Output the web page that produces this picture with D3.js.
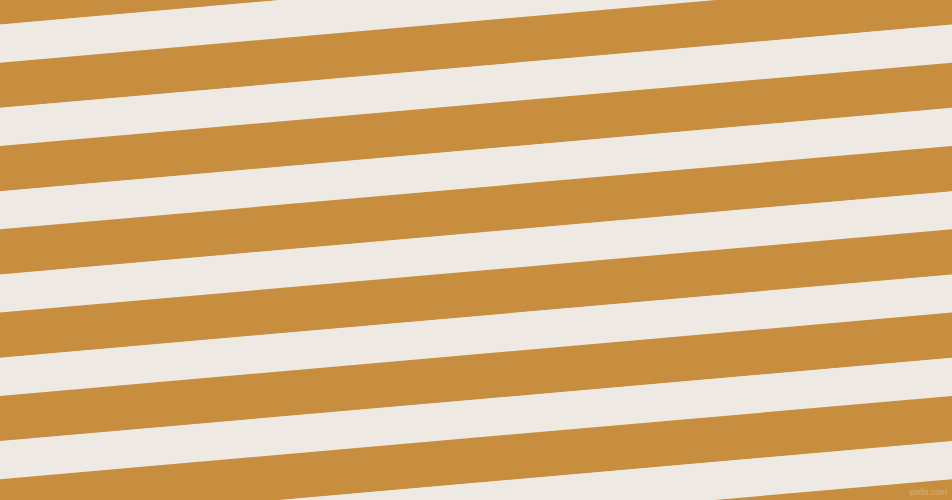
<!DOCTYPE html>
<html>
<head>
<meta charset="utf-8">
<script src="https://cdn.jsdelivr.net/npm/d3@7"></script>
<style>
  html, body { margin: 0; padding: 0; background: #EEEAE3; }
  #chart { width: 952px; height: 500px; overflow: hidden; }
</style>
</head>
<body>
<div id="chart"></div>
<script>
// stripe sequence, top to bottom (each pair = one gold + one cream band)
const pairs = [0, 1, 2, 3, 4, 5, 6, 7, 8];
const bandNames = ["gold", "cream"];
const bandColors = ["#C68E3E", "#EEEAE3"];
const bandShare = [45, 38];   // perpendicular thickness of each band
const watermark = "pixlis.com";

function drawStripes() {
    const width = 952;
    const height = 500;
    const angle = -5;
    const period = d3.sum(bandShare);

    const svg = d3.select("#chart")
        .append("svg")
        .attr("width", width)
        .attr("height", height)
        .attr("viewBox", `0 0 ${width} ${height}`);

    svg.append("rect")
        .attr("width", width)
        .attr("height", height)
        .attr("fill", bandColors[1]);

    // pair index -> perpendicular offset of the pair's first band
    const yPair = d3.scaleLinear()
        .domain([0, 1])
        .range([-103.6, -103.6 + period]);

    const color = d3.scaleOrdinal().domain(bandNames).range(bandColors);

    const g = svg.append("g")
        .attr("transform", `rotate(${angle})`);

    const bands = [];
    pairs.forEach(p => {
        let off = 0;
        bandNames.forEach((name, i) => {
            bands.push({ pair: p, name: name, start: off, size: bandShare[i] });
            off += bandShare[i];
        });
    });

    g.selectAll(".band")
        .data(bands)
        .enter().append("rect")
        .attr("class", "band")
        .attr("x", -200)
        .attr("width", width + 400)
        .attr("y", d => yPair(d.pair) + d.start)
        .attr("height", d => d.size + 0.3)
        .attr("fill", d => color(d.name));

    svg.append("text")
        .attr("x", width - 5)
        .attr("y", height - 5)
        .attr("text-anchor", "end")
        .style("font-family", "Liberation Sans")
        .style("font-size", "8.5px")
        .style("fill", "#DAB173")
        .text(watermark);
}

drawStripes();
</script>
</body>
</html>
